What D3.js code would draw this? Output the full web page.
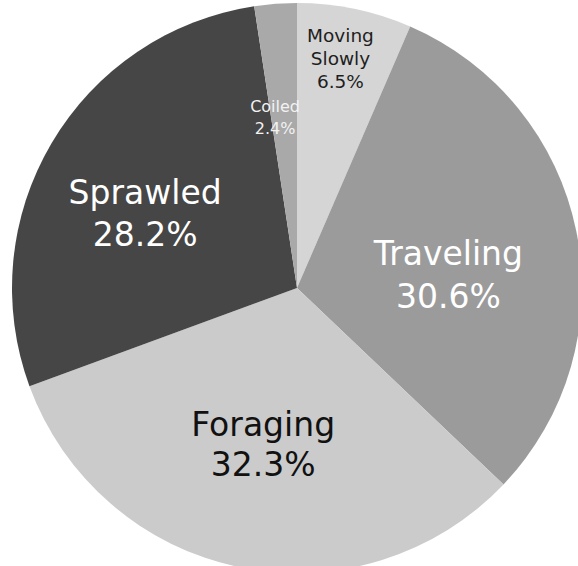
<!DOCTYPE html>
<html>
<head>
  <meta charset="utf-8">
  <script src="https://d3js.org/d3.v7.min.js"></script>
  <style>
    body { margin: 0; background: #fff; }
    text { font-family: "DejaVu Sans", "Noto Sans", sans-serif; }
  </style>
</head>
<body>
  <script>
    // behaviour categories, clockwise from 12 o'clock
    var categories = ["Moving Slowly", "Traveling", "Foraging", "Sprawled", "Coiled"];
    var percents = [6.5, 30.6, 32.3, 28.2, 2.4];
    var labelLines = [["Moving", "Slowly", "6.5%"], ["Traveling", "30.6%"], ["Foraging", "32.3%"], ["Sprawled", "28.2%"], ["Coiled", "2.4%"]];

    var fills = ["#d5d5d5", "#9b9b9b", "#cbcbcb", "#464646", "#a9a9a9"];
    var textFill = ["#1e1e1e", "#ffffff", "#111111", "#ffffff", "#f2f2f2"];
    var fontSize = [18.5, 33, 33, 33, 16];
    var lineGap = [23, 43, 40, 42, 22];
    // where each label sits (radius along the slice's mid angle + angle shift in degrees)
    var labelR = [234, 152, 160, 169, 172];
    var labelShift = [-1, 6.5, 0.5, -4.6, -3];

    var width = 578, height = 566;
    var cx = 297, cy = 288, radius = 285;

    var svg = d3.select("body").append("svg")
      .attr("width", width)
      .attr("height", height);

    var g = svg.append("g").attr("transform", "translate(" + cx + "," + cy + ")");

    var data = categories.map(function(c, i) { return { name: c, value: percents[i], i: i }; });

    var pie = d3.pie().value(function(d) { return d.value; }).sort(null);
    var arc = d3.arc().innerRadius(0).outerRadius(radius);
    var arcs = pie(data);

    g.selectAll("path.slice")
      .data(arcs)
      .enter()
      .append("path")
      .attr("class", "slice")
      .attr("d", arc)
      .attr("fill", function(d) { return fills[d.data.i]; });

    var labels = g.selectAll("g.lbl")
      .data(arcs)
      .enter()
      .append("g")
      .attr("class", "lbl")
      .attr("transform", function(d) {
        var i = d.data.i;
        var a = (d.startAngle + d.endAngle) / 2 + labelShift[i] * Math.PI / 180;
        var x = labelR[i] * Math.sin(a), y = -labelR[i] * Math.cos(a);
        return "translate(" + x + "," + y + ")";
      });

    labels.each(function(d) {
      var i = d.data.i;
      var lines = labelLines[i];
      var n = lines.length;
      var sel = d3.select(this);
      lines.forEach(function(t, k) {
        sel.append("text")
          .attr("text-anchor", "middle")
          .attr("dominant-baseline", "central")
          .attr("y", (k - (n - 1) / 2) * lineGap[i])
          .attr("font-size", fontSize[i])
          .attr("fill", textFill[i])
          .text(t);
      });
    });
  </script>
</body>
</html>
